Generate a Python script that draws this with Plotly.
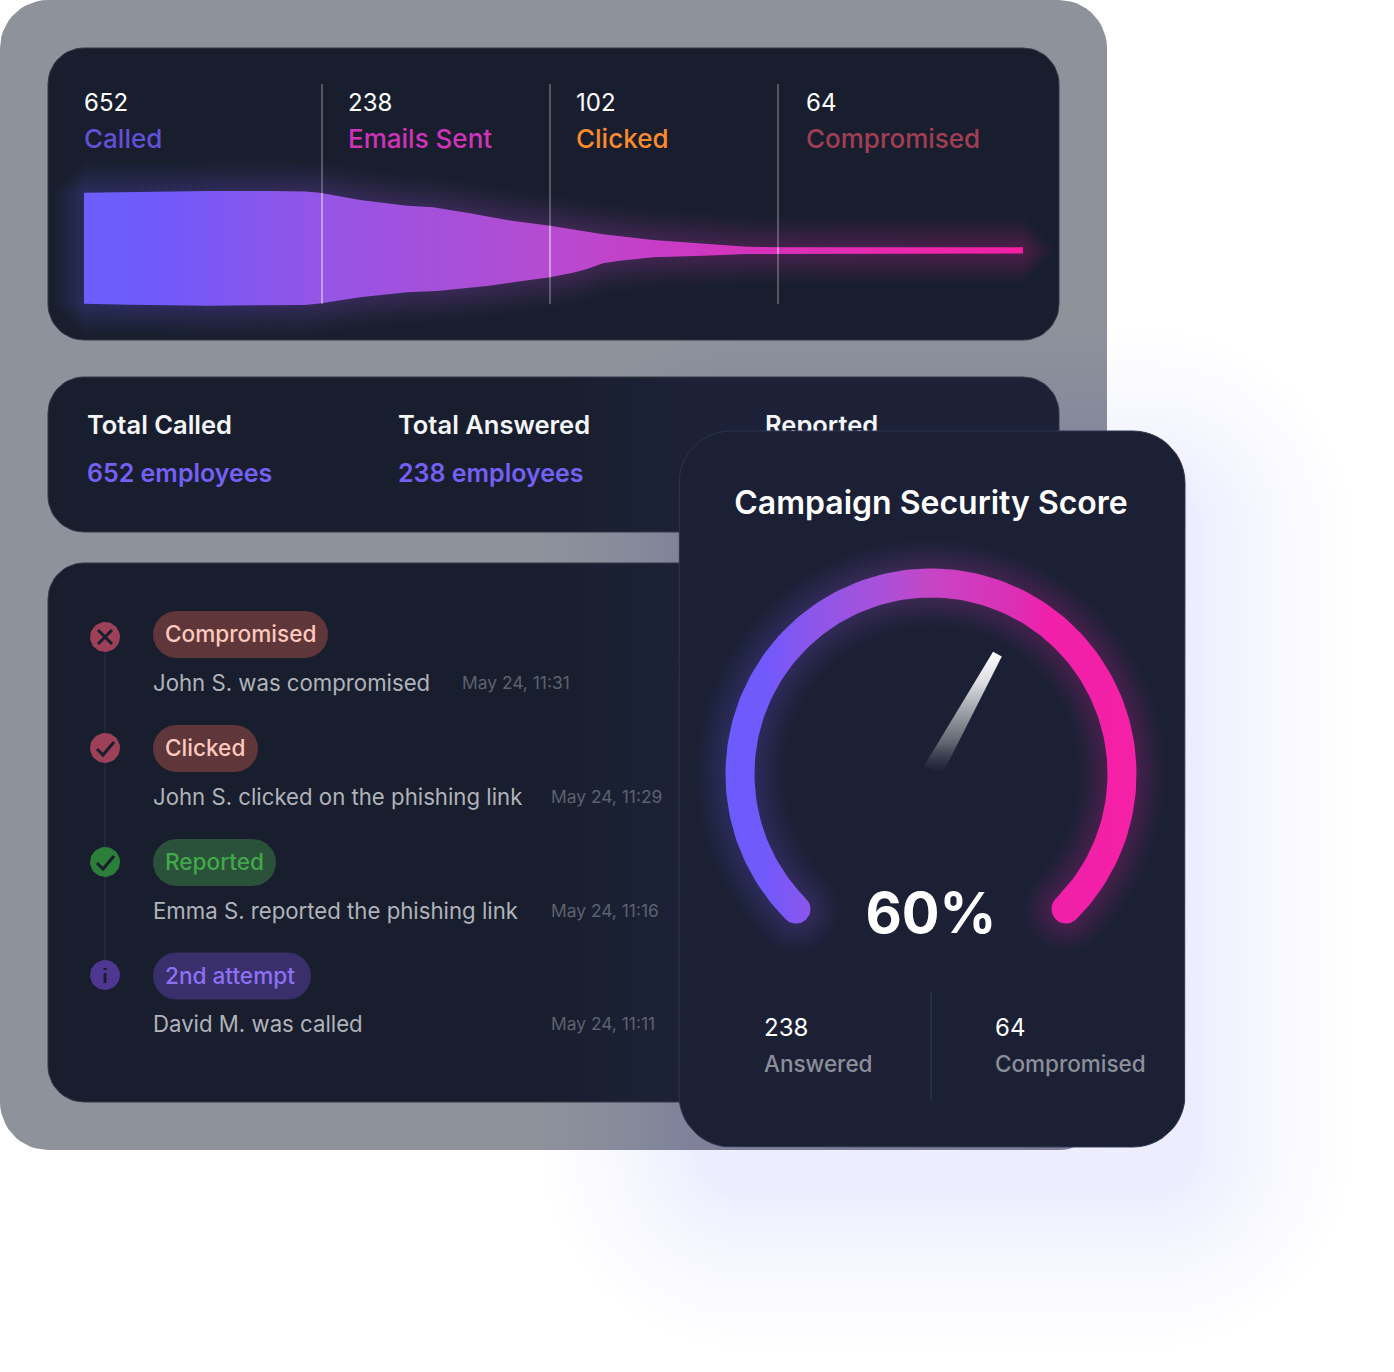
import numpy as np
import plotly.graph_objects as go

FONT = "Inter"

# funnel block
stage_counts = [652, 238, 102, 64]
stage_labels = ["Called", "Emails Sent", "Clicked", "Compromised"]
stage_colors = ["#6250d6", "#d033b8", "#fb8a2e", "#a03f53"]
stage_x = [84, 348, 576, 806]
divider_x = [322, 550, 778]

# funnel outline
funnel_top_x = [84, 130, 209, 273, 305, 320, 360, 407, 433, 470, 507, 550, 603, 653, 703, 747, 778, 1023]
funnel_top = [192.7, 191.8, 191, 191, 191.5, 192.7, 200, 205.7, 207.3, 213.3, 220, 225.7, 234.3, 240, 243.7, 246.7, 247.3, 247.3]
funnel_bottom_x = [84, 130, 209, 273, 305, 320, 360, 407, 437, 487, 550, 573, 587, 603, 620, 653, 703, 747, 778, 1023]
funnel_bottom = [303.7, 304.8, 305.7, 305.3, 305, 303.5, 297.3, 292.3, 291, 286, 277.3, 272.7, 269, 263.3, 260.7, 257.3, 255.7, 254, 253.5, 253.5]
funnel_scale = [[0, "#6c5ffe"], [0.08, "#7059fb"], [0.25, "#9455e6"], [0.5, "#b64bd0"], [0.68, "#d235bf"], [0.85, "#e82ab0"], [1, "#f51fa5"]]

# totals block
total_titles = ["Total Called", "Total Answered", "Reported"]
total_values = ["652 employees", "238 employees"]
total_x = [87, 398, 765]

# activity list
badge_labels = ["Compromised", "Clicked", "Reported", "2nd attempt"]
badge_fill = ["#5f3639", "#5f3639", "#2a5139", "#392f6a"]
badge_text = ["#ffc9bd", "#ffc9bd", "#43a84a", "#8e70f5"]
badge_right = [328, 258, 276, 311]
row_badge_y = [634.5, 748.5, 862.5, 976]
row_icon_y = [637, 748, 862, 975]
icon_fill = ["#9c4157", "#9c4157", "#2b7f3a", "#4e3791"]
icon_kind = ["x", "check", "check", "info"]
event_text = ["John S. was compromised", "John S. clicked on the phishing link",
              "Emma S. reported the phishing link", "David M. was called"]
event_time = ["May 24, 11:31", "May 24, 11:29", "May 24, 11:16", "May 24, 11:11"]
event_time_x = [462, 551, 551, 551]

# score card
score = 60
gauge_start = 225
gauge_end = -45
needle_angle = 61
card_stats = ["238", "64"]
card_stat_labels = ["Answered", "Compromised"]
card_stat_x = [764, 995]
gauge_scale = [[0, "#6c5bff"], [0.1, "#7259fb"], [0.21, "#8c56ea"], [0.37, "#a851da"], [0.5, "#c645c5"],
               [0.7, "#dc2fb5"], [0.78, "#f020aa"], [1, "#f521a6"]]
needle_scale = [[0, "#ffffff"], [0.25, "#dcdce2"], [0.5, "#9b9ea5"], [0.75, "#5f646e"],
                [0.95, "rgba(40,44,66,0.6)"], [1, "rgba(27,32,53,0)"]]

fig = go.Figure()


def rounded(x0, y0, x1, y1, r, n=14):
    t = np.linspace(0, np.pi / 2, n)
    xs = np.concatenate([x1 - r + r * np.sin(t), x1 - r + r * np.cos(t), x0 + r - r * np.sin(t), x0 + r - r * np.cos(t)])
    ys = np.concatenate([y0 + r - r * np.cos(t), y1 - r + r * np.sin(t), y1 - r + r * np.cos(t), y0 + r - r * np.sin(t)])
    return np.append(xs, xs[0]), np.append(ys, ys[0])


def poly(xs, ys, color=None, line=None, gradient=None, opacity=1):
    kw = dict(fillcolor=color) if color else dict(fillgradient=gradient)
    fig.add_trace(go.Scatter(
        x=xs, y=ys, mode="lines", fill="toself", opacity=opacity,
        line=dict(width=1 if line else 0, color=line or "rgba(0,0,0,0)"),
        hoverinfo="skip", showlegend=False, **kw))


def path(xs, ys, color, width):
    fig.add_trace(go.Scatter(x=xs, y=ys, mode="lines", line=dict(color=color, width=width),
                             hoverinfo="skip", showlegend=False))


def label(x, y, text, size, color, weight=400, pos="middle right"):
    fig.add_trace(go.Scatter(
        x=[x], y=[y], mode="text", text=[text], textposition=pos,
        textfont=dict(family=FONT, size=size, color=color, weight=weight),
        hoverinfo="skip", showlegend=False))


def ring(cx, cy, radius, half, a0, a1, n=160):
    # thick arc with round caps
    a = np.radians(np.linspace(a0, a1, n))
    c = np.radians(np.linspace(0, 180, 24))
    end = np.radians(a1)
    start = np.radians(a0)
    xs = np.concatenate([
        cx + (radius + half) * np.cos(a),
        cx + radius * np.cos(end) + half * np.cos(end - c),
        cx + (radius - half) * np.cos(a[::-1]),
        cx + radius * np.cos(start) + half * np.cos(start + np.pi - c),
    ])
    ys = np.concatenate([
        cy - (radius + half) * np.sin(a),
        cy - radius * np.sin(end) - half * np.sin(end - c),
        cy - (radius - half) * np.sin(a[::-1]),
        cy - radius * np.sin(start) - half * np.sin(start + np.pi - c),
    ])
    return xs, ys


# grey backing panel, then the card's soft shadow over it
poly(*rounded(0, 0, 1107, 1150, 48), color="#8e929b")
for t in np.linspace(1, 0.03, 18):
    d = 150 * t ** 1.4
    poly(*rounded(679 + 15 - d, 431 + 50 - d, 1185 + 15 + d, 1147 + 50 + d, 52 + d), color="#6e70d7", opacity=0.0095)

panel_tint = dict(type="horizontal", start=540, stop=680, colorscale=[[0, "#181e2d"], [1, "#1c2137"]])
poly(*rounded(48, 48, 1059, 340, 36), color="#181e2d", line="#343947")
poly(*rounded(48, 377, 1059, 532, 36), gradient=panel_tint, line="#343947")
poly(*rounded(48, 563, 1059, 1102, 36), gradient=panel_tint, line="#343947")

# funnel glow + body
tx, ftop = np.array(funnel_top_x, dtype=float), np.array(funnel_top)
bx, fbot = np.array(funnel_bottom_x, dtype=float), np.array(funnel_bottom)
for d in [30, 26, 22, 18, 15, 12, 9, 6, 3]:
    xs = np.concatenate([[tx[0] - d], tx, [tx[-1] + d, tx[-1] + d], bx[::-1], [bx[0] - d]])
    ys = np.concatenate([[ftop[0]], ftop - d, [ftop[-1], fbot[-1]], fbot[::-1] + d, [fbot[0]]])
    poly(xs, ys, gradient=dict(type="horizontal", colorscale=funnel_scale, start=84, stop=1023), opacity=0.026)
poly(np.concatenate([tx, bx[::-1]]), np.concatenate([ftop, fbot[::-1]]),
     gradient=dict(type="horizontal", colorscale=funnel_scale, start=84, stop=1023))

for x in divider_x:
    path([x, x], [84, 304], "rgba(255,255,255,0.5)", 1)
    path([x, x], [np.interp(x, tx, ftop), np.interp(x, bx, fbot)], "rgba(255,255,255,0.5)", 1)

for x, count, name, color in zip(stage_x, stage_counts, stage_labels, stage_colors):
    label(x, 105, str(count), 24, "#ffffff")
    label(x, 141, name, 26, color, 500)

# totals
for x, title in zip(total_x, total_titles):
    label(x, 428, title, 25.5, "#f4f5f7", 600)
for x, value in zip(total_x, total_values):
    label(x, 476, value, 25, "#7460f4", 600)

# activity list
path([105, 105], [row_icon_y[0], row_icon_y[-1]], "#202638", 2)
for i in range(4):
    poly(*rounded(153, row_badge_y[i] - 23.5, badge_right[i], row_badge_y[i] + 23.5, 23.5), color=badge_fill[i])
    label(165, row_badge_y[i] + 2, badge_labels[i], 22.6, badge_text[i], 500)
    label(153, row_badge_y[i] + 50.5, event_text[i], 22.2, "#b0b3ba")
    label(event_time_x[i], row_badge_y[i] + 50, event_time[i], 17.4, "#5d616e")

    t = np.linspace(0, 2 * np.pi, 50)
    cy = row_icon_y[i]
    poly(105 + 15 * np.cos(t), cy + 15 * np.sin(t), color=icon_fill[i])
    dark = "#181e2d"
    if icon_kind[i] == "x":
        path([98, 112], [cy - 7, cy + 7], dark, 3)
        path([98, 112], [cy + 7, cy - 7], dark, 3)
    elif icon_kind[i] == "check":
        path([97, 103, 114], [cy + 1, cy + 7, cy - 6], dark, 3)
    else:
        path([105, 105], [cy - 2, cy + 8], dark, 3)
        path([105, 105], [cy - 7, cy - 5], dark, 3)

# score card
poly(*rounded(679, 431, 1185, 1147, 52), color="#1b2035", line="#2f3350")
label(931, 506, "Campaign Security Score", 32, "#ffffff", 600, "middle center")

gx, gy, gr, gh = 931, 774, 191, 14.5
for d in [28, 24, 20, 17, 14, 11, 8, 5, 2]:
    poly(*ring(gx, gy, gr, gh + d, gauge_start, gauge_end),
         gradient=dict(type="horizontal", colorscale=gauge_scale, start=726, stop=1137), opacity=0.023)
poly(*ring(gx, gy, gr, gh, gauge_start, gauge_end),
     gradient=dict(type="horizontal", colorscale=gauge_scale, start=726, stop=1137))

# needle
na = np.radians(needle_angle)
ux, uy = np.cos(na), -np.sin(na)
px, py = -uy, ux
base, tip = 4, 137
poly([gx + base * ux + 10 * px, gx + tip * ux + 5 * px, gx + tip * ux - 5 * px, gx + base * ux - 10 * px],
     [gy + base * uy + 10 * py, gy + tip * uy + 5 * py, gy + tip * uy - 5 * py, gy + base * uy - 10 * py],
     gradient=dict(type="vertical", start=652, stop=774, colorscale=needle_scale))

label(931, 919, f"{score}%", 56, "#ffffff", 700, "middle center")

path([931, 931], [992, 1100], "#343a50", 1)
for x, value, name in zip(card_stat_x, card_stats, card_stat_labels):
    label(x, 1030, value, 24, "#ffffff")
    label(x, 1066, name, 22.5, "#8c8f9a", 500)

fig.update_layout(
    width=1394, height=1372, autosize=False,
    margin=dict(l=0, r=0, t=0, b=0),
    paper_bgcolor="white", plot_bgcolor="white",
    showlegend=False, hovermode=False,
    xaxis=dict(range=[0, 1394], visible=False, fixedrange=True),
    yaxis=dict(range=[1372, 0], visible=False, fixedrange=True),
)

fig.write_html("out.html", config=dict(displayModeBar=False),
               post_script="document.body.style.margin='0';")
